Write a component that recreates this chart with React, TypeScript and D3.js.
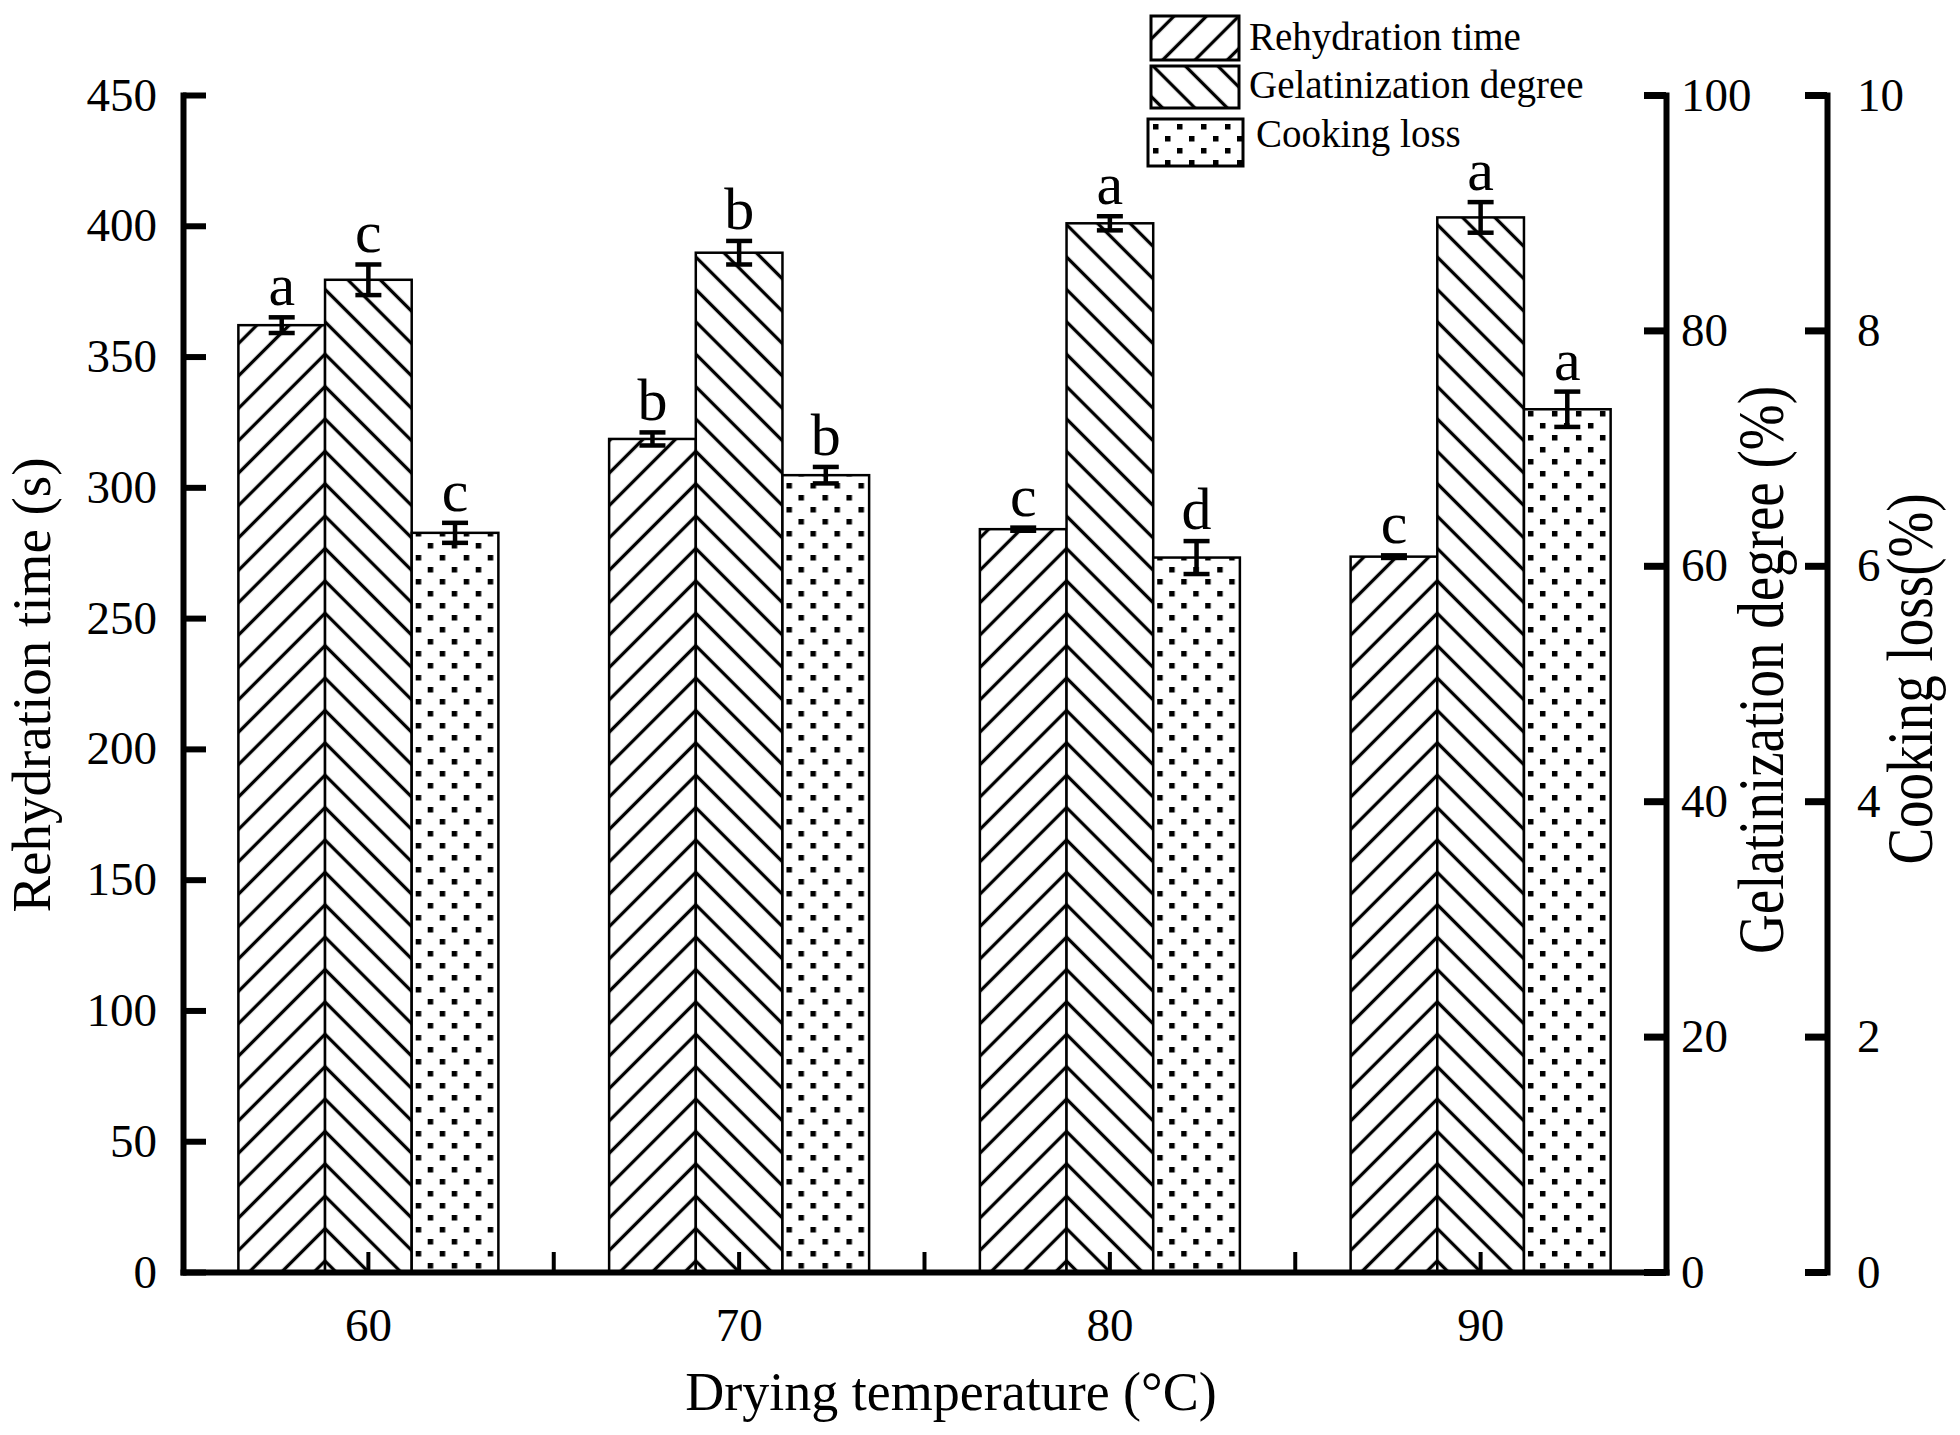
import { useRef, useEffect } from 'react';
import * as d3 from 'd3';

// Drying temperature groups (°C)
const temperatures = ['60', '70', '80', '90'];

// Rehydration time (s), left axis
const rehydrationTime = [362, 318.5, 284, 273.5];
const rehydrationErr = [3, 2.5, 0.6, 0.5];
const rehydrationLetters = ['a', 'b', 'c', 'c'];

// Gelatinization degree (%), first right axis
const gelatinization = [84.3, 86.6, 89.1, 89.6];
const gelatinizationErr = [1.3, 1.0, 0.6, 1.3];
const gelatinizationLetters = ['c', 'b', 'a', 'a'];

// Cooking loss (%), second right axis
const cookingLoss = [6.28, 6.77, 6.07, 7.33];
const cookingLossErr = [0.085, 0.07, 0.14, 0.15];
const cookingLossLetters = ['c', 'b', 'd', 'a'];

const leftTicks = [0, 50, 100, 150, 200, 250, 300, 350, 400, 450];
const gelTicks = [0, 20, 40, 60, 80, 100];
const cookTicks = [0, 2, 4, 6, 8, 10];

const legendLabels = ['Rehydration time', 'Gelatinization degree', 'Cooking loss'];

const W = 1960;
const H = 1435;
const FONT = '"Liberation Serif", "Times New Roman", serif';

export default function App() {
  const svgRef = useRef<SVGSVGElement>(null);

  useEffect(() => {
    if (!svgRef.current) return;
    const svg = d3.select(svgRef.current);
    svg.selectAll('*').remove();

    const left = 183, right = 1666, top = 95, bottom = 1272;
    const groupW = 260;

    const x = d3.scaleBand().domain(temperatures).range([left, right]).padding(0);
    const xs = d3.scaleBand().domain(['r', 'g', 'c']).range([0, groupW]);
    const yR = d3.scaleLinear().domain([0, 450]).range([bottom, top]);
    const yG = d3.scaleLinear().domain([0, 100]).range([bottom, top]);
    const yC = d3.scaleLinear().domain([0, 10]).range([bottom, top]);

    const defs = svg.append('defs');
    const hs = 22.9; // perpendicular spacing of hatch lines

    const addHatch = (id: string, x0: number, y0: number, angle: number) => {
      const p = defs.append('pattern')
        .attr('id', id)
        .attr('patternUnits', 'userSpaceOnUse')
        .attr('width', hs)
        .attr('height', hs)
        .attr('patternTransform', 'translate(' + x0 + ',' + y0 + ') rotate(' + angle + ') translate(' + (-hs / 2) + ',0)');
      p.append('rect').attr('width', hs).attr('height', hs).attr('fill', '#fff');
      p.append('line')
        .attr('x1', hs / 2).attr('x2', hs / 2)
        .attr('y1', -2).attr('y2', hs + 2)
        .attr('stroke', '#000')
        .attr('stroke-width', 3.3);
    };

    const addDots = (id: string, x0: number, y0: number) => {
      const p = defs.append('pattern')
        .attr('id', id)
        .attr('patternUnits', 'userSpaceOnUse')
        .attr('width', 24)
        .attr('height', 24)
        .attr('patternTransform', 'translate(' + x0 + ',' + y0 + ')');
      p.append('rect').attr('width', 24).attr('height', 24).attr('fill', '#fff');
      p.append('rect').attr('x', 0).attr('y', 0).attr('width', 5.5).attr('height', 5.5).attr('fill', '#000');
      p.append('rect').attr('x', 12).attr('y', 12).attr('width', 5.5).attr('height', 5.5).attr('fill', '#000');
    };

    const series = [
      { key: 'r', values: rehydrationTime, errs: rehydrationErr, letters: rehydrationLetters, y: yR },
      { key: 'g', values: gelatinization, errs: gelatinizationErr, letters: gelatinizationLetters, y: yG },
      { key: 'c', values: cookingLoss, errs: cookingLossErr, letters: cookingLossLetters, y: yC },
    ];

    const groupX = (t: string) => x(t)! + (x.bandwidth() - groupW) / 2;

    temperatures.forEach((t, i) => {
      const boundary = groupX(t) + xs('g')!;
      addHatch('hatchR-' + i, boundary, 257, 45);
      addHatch('hatchG-' + i, boundary, 257, -45);
      addDots('dots-' + i, groupX(t) + xs('c')! - 8, 543);
    });

    const g = svg.append('g');

    // Bars
    series.forEach((s) => {
      g.selectAll('rect.bar-' + s.key)
        .data(s.values)
        .join('rect')
        .attr('class', 'bar-' + s.key)
        .attr('x', (_, i) => groupX(temperatures[i]) + xs(s.key)!)
        .attr('width', xs.bandwidth())
        .attr('y', (d) => s.y(d))
        .attr('height', (d) => bottom - s.y(d))
        .attr('fill', (_, i) => s.key === 'r' ? 'url(#hatchR-' + i + ')' : s.key === 'g' ? 'url(#hatchG-' + i + ')' : 'url(#dots-' + i + ')')
        .attr('stroke', '#000')
        .attr('stroke-width', 2.5);
    });

    // Error bars + significance letters
    series.forEach((s) => {
      s.values.forEach((v, i) => {
        const cx = groupX(temperatures[i]) + xs(s.key)! + xs.bandwidth() / 2;
        const yTop = s.y(v + s.errs[i]);
        const yBot = s.y(v - s.errs[i]);
        const eb = g.append('g').attr('stroke', '#000').attr('stroke-width', 4.5);
        eb.append('line').attr('x1', cx).attr('x2', cx).attr('y1', yTop).attr('y2', yBot);
        eb.append('line').attr('x1', cx - 13).attr('x2', cx + 13).attr('y1', yTop).attr('y2', yTop);
        eb.append('line').attr('x1', cx - 13).attr('x2', cx + 13).attr('y1', yBot).attr('y2', yBot);
        g.append('text')
          .attr('x', cx)
          .attr('y', yTop - 12)
          .attr('text-anchor', 'middle')
          .attr('font-family', FONT)
          .attr('font-size', 60)
          .attr('fill', '#000')
          .text(s.letters[i]);
      });
    });

    // Left axis
    const axL = svg.append('g')
      .attr('transform', 'translate(' + left + ',0)')
      .call(d3.axisLeft(yR).tickValues(leftTicks).tickSizeInner(-23).tickSizeOuter(0).tickPadding(26));
    axL.select('.domain').attr('stroke-width', 6).attr('stroke-linecap', 'square');
    axL.selectAll('.tick line').attr('stroke-width', 6);
    axL.selectAll('.tick text').attr('font-family', FONT).attr('font-size', 47).attr('fill', '#000');

    // Gelatinization axis
    const axG = svg.append('g')
      .attr('transform', 'translate(' + right + ',0)')
      .call(d3.axisRight(yG).tickValues(gelTicks).tickSizeInner(-22).tickSizeOuter(0).tickPadding(15));
    axG.select('.domain').attr('stroke-width', 6).attr('stroke-linecap', 'square');
    axG.selectAll('.tick line').attr('stroke-width', 7);
    axG.selectAll('.tick text').attr('font-family', FONT).attr('font-size', 47).attr('fill', '#000');

    // Cooking loss axis
    const axC = svg.append('g')
      .attr('transform', 'translate(1827,0)')
      .call(d3.axisRight(yC).tickValues(cookTicks).tickSizeInner(-22).tickSizeOuter(0).tickPadding(30));
    axC.select('.domain').attr('stroke-width', 6).attr('stroke-linecap', 'square');
    axC.selectAll('.tick line').attr('stroke-width', 7);
    axC.selectAll('.tick text').attr('font-family', FONT).attr('font-size', 47).attr('fill', '#000');

    // Bottom axis
    const axB = svg.append('g')
      .attr('transform', 'translate(0,' + bottom + ')')
      .call(d3.axisBottom(x).tickSizeInner(-20).tickSizeOuter(0).tickPadding(36));
    axB.select('.domain').attr('stroke-width', 6).attr('stroke-linecap', 'square');
    axB.selectAll('.tick line').attr('stroke-width', 4);
    axB.selectAll('.tick text').attr('font-family', FONT).attr('font-size', 47).attr('fill', '#000');
    axB.selectAll('line.boundary')
      .data(temperatures.slice(1))
      .join('line')
      .attr('class', 'boundary')
      .attr('x1', (d) => x(d)!)
      .attr('x2', (d) => x(d)!)
      .attr('y1', 0)
      .attr('y2', -20)
      .attr('stroke', '#000')
      .attr('stroke-width', 4);

    // Axis titles
    svg.append('text')
      .attr('transform', 'translate(50,685) rotate(-90)')
      .attr('text-anchor', 'middle')
      .attr('font-family', FONT)
      .attr('font-size', 55)
      .text('Rehydration time (s)');
    svg.append('text')
      .attr('transform', 'translate(1783,670) rotate(-90) scale(1,1.2)')
      .attr('text-anchor', 'middle')
      .attr('font-family', FONT)
      .attr('font-size', 55)
      .text('Gelatinization degree (%)');
    svg.append('text')
      .attr('transform', 'translate(1932,679) rotate(-90) scale(1,1.2)')
      .attr('text-anchor', 'middle')
      .attr('font-family', FONT)
      .attr('font-size', 55)
      .text('Cooking loss(%)');
    svg.append('text')
      .attr('x', 951)
      .attr('y', 1410)
      .attr('text-anchor', 'middle')
      .attr('font-family', FONT)
      .attr('font-size', 54)
      .text('Drying temperature (°C)');

    // Legend
    const legBoxes = [
      { x: 1151, y: 16, w: 88, h: 44 },
      { x: 1151, y: 66, w: 88, h: 42 },
      { x: 1148, y: 119, w: 95, h: 47 },
    ];
    addHatch('legR', 1151 + 44, 60, 45);
    addHatch('legG', 1151 + 44, 108, -45);
    addDots('legC', 1148 + 5, 124);
    const legFills = ['url(#legR)', 'url(#legG)', 'url(#legC)'];
    const textX = [1249, 1249, 1256];
    const textY = [50, 98, 147];
    const leg = svg.append('g');
    legBoxes.forEach((b, i) => {
      leg.append('rect')
        .attr('x', b.x).attr('y', b.y).attr('width', b.w).attr('height', b.h)
        .attr('fill', legFills[i])
        .attr('stroke', '#000')
        .attr('stroke-width', 3);
      leg.append('text')
        .attr('x', textX[i])
        .attr('y', textY[i])
        .attr('font-family', FONT)
        .attr('font-size', 39)
        .text(legendLabels[i]);
    });
  }, []);

  return (
    <svg
      ref={svgRef}
      width={W}
      height={H}
      viewBox={'0 0 ' + W + ' ' + H}
      style={{ position: 'absolute', left: 0, top: 0, background: '#fff' }}
    />
  );
}
